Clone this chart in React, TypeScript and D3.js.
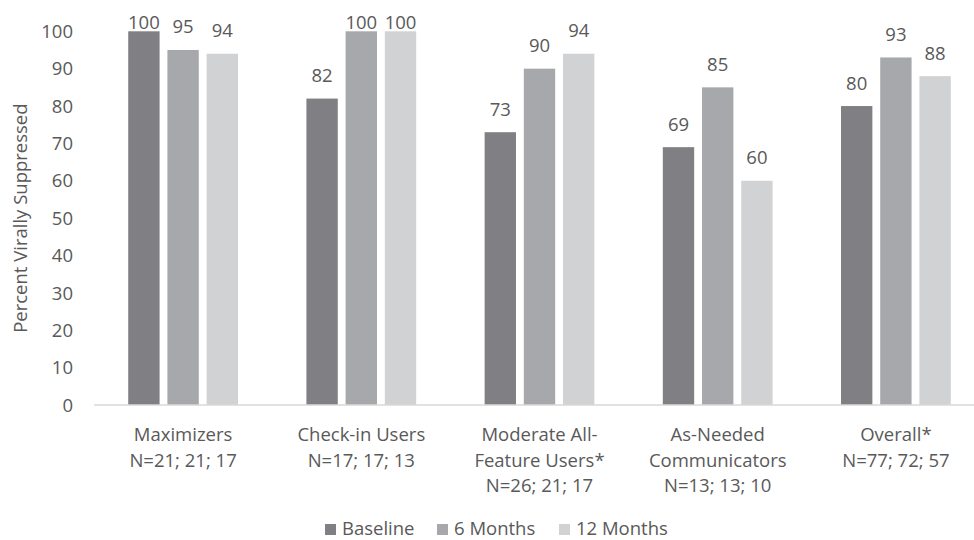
import React from "react";
import * as d3 from "d3";

const categories: string[][] = [
  ["Maximizers", "N=21; 21; 17"],
  ["Check-in Users", "N=17; 17; 13"],
  ["Moderate All-", "Feature Users*", "N=26; 21; 17"],
  ["As-Needed", "Communicators", "N=13; 13; 10"],
  ["Overall*", "N=77; 72; 57"],
];
const seriesNames = ["Baseline", "6 Months", "12 Months"];
const baseline = [100, 82, 73, 69, 80];
const sixMonths = [95, 100, 90, 85, 93];
const twelveMonths = [94, 100, 94, 60, 88];
const yTicks = [0, 10, 20, 30, 40, 50, 60, 70, 80, 90, 100];
const colors = ["#808084", "#a7a8ab", "#d1d2d4"];

const W = 974;
const H = 540;
const FONT = "'Open Sans', sans-serif";
const TEXT = "#595959";

export default function App() {
  const series = [baseline, sixMonths, twelveMonths];
  const keys = categories.map((c) => c.join(" "));
  const x = d3.scaleBand<string>().domain(keys).range([94, 985]).paddingInner(0.34).paddingOuter(0.17);
  const xs = d3.scaleBand<string>().domain(seriesNames).range([0, x.bandwidth()]).paddingInner(0.2).paddingOuter(0.1);
  const y = d3.scaleLinear().domain([0, 100]).range([405, 31.3]);
  const legendX = [325, 437, 559];

  return (
    <svg width={W} height={H} style={{ position: "absolute", left: 0, top: 0, background: "#fff" }} fontFamily={FONT}>
      <rect width={W} height={H} fill="#fff" />
      {yTicks.map((t) => (
        <text key={t} x={73} y={y(t)} dy="0.36em" textAnchor="end" fontSize={18.5} fill={TEXT}>
          {t}
        </text>
      ))}
      <text
        transform={`translate(27,${(y(0) + y(100)) / 2}) rotate(-90)`}
        textAnchor="middle"
        fontSize={18.5}
        fill={TEXT}
      >
        Percent Virally Suppressed
      </text>
      {series.map((vals, si) =>
        vals.map((v, ci) => {
          const bx = (x(keys[ci]) as number) + (xs(seriesNames[si]) as number);
          return (
            <g key={`${si}-${ci}`}>
              <rect x={bx} y={y(v)} width={xs.bandwidth()} height={y(0) - y(v)} fill={colors[si]} />
              <text
                x={bx + xs.bandwidth() / 2}
                y={Math.max(y(v) - 16.5, 29.3)}
                textAnchor="middle"
                fontSize={18.5}
                fill={TEXT}
              >
                {v}
              </text>
            </g>
          );
        })
      )}
      <line x1={94} x2={985} y1={y(0)} y2={y(0)} stroke="#d9d9d9" strokeWidth={1.5} />
      {categories.map((lines, ci) => (
        <text
          key={ci}
          x={(x(keys[ci]) as number) + x.bandwidth() / 2}
          textAnchor="middle"
          fontSize={18.5}
          fill={TEXT}
        >
          {lines.map((l, li) => (
            <tspan key={li} x={(x(keys[ci]) as number) + x.bandwidth() / 2} y={440.7 + li * 25.8}>
              {l}
            </tspan>
          ))}
        </text>
      ))}
      {seriesNames.map((n, si) => (
        <g key={n}>
          <rect x={legendX[si]} y={524} width={11} height={11} fill={colors[si]} />
          <text x={legendX[si] + 17} y={535} fontSize={18.5} fill={TEXT}>
            {n}
          </text>
        </g>
      ))}
    </svg>
  );
}
